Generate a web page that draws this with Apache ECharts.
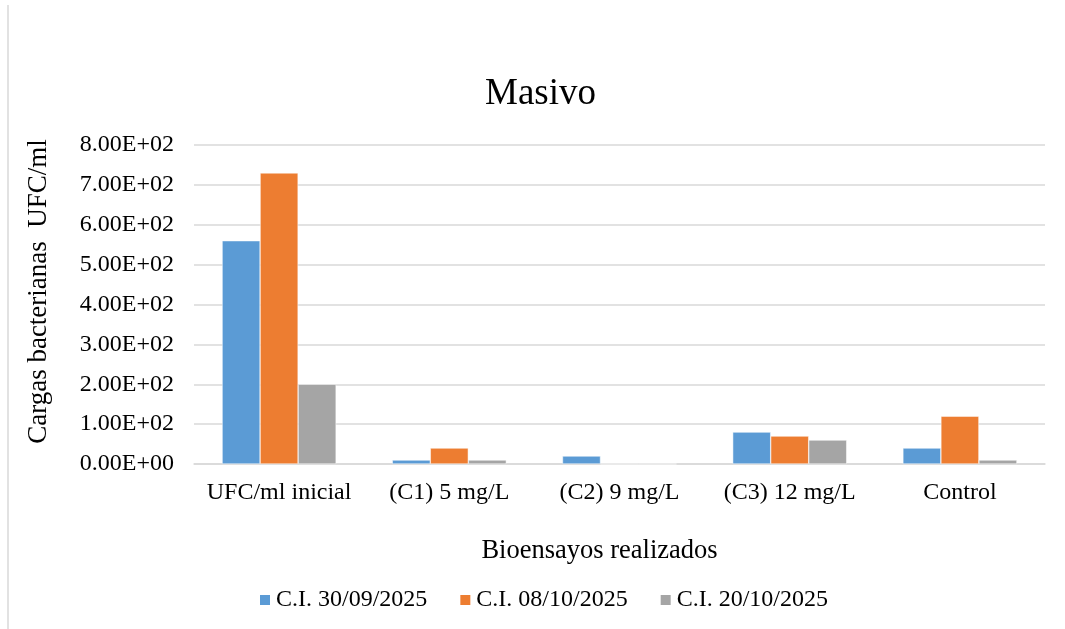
<!DOCTYPE html>
<html>
<head>
<meta charset="utf-8">
<script src="https://cdn.jsdelivr.net/npm/echarts@6/dist/echarts.min.js"></script>
<style>
  html, body { margin: 0; padding: 0; background: #fff; }
  #main { width: 1065px; height: 629px; }
</style>
</head>
<body>
<div id="main"></div>
<script>
const categories = ['UFC/ml inicial', '(C1) 5 mg/L', '(C2) 9 mg/L', '(C3) 12 mg/L', 'Control'];
const serieNames = ['C.I. 30/09/2025', 'C.I. 08/10/2025', 'C.I. 20/10/2025'];
const ci30_09 = [560, 10, 20, 80, 40];
const ci08_10 = [730, 40, 0, 70, 120];
const ci20_10 = [200, 10, 0, 60, 10];
const colors = ['#5B9BD5', '#ED7D31', '#A5A5A5'];

const FONT = '"Liberation Serif", "DejaVu Serif", serif';

// formato cientifico tipo Excel: 8.00E+02
function sci(v) {
    const parts = Number(v).toExponential(2).split('e');
    const exp = parseInt(parts[1], 10);
    const sign = exp < 0 ? '-' : '+';
    const e = String(Math.abs(exp)).padStart(2, '0');
    return parts[0] + 'E' + sign + e;
}

const chart = echarts.init(document.getElementById('main'));
chart.setOption({
    backgroundColor: '#fff',
    animation: false,
    title: {
        text: 'Masivo',
        left: 480,
        top: 71,
        textStyle: { fontFamily: FONT, fontSize: 37, fontWeight: 'normal', color: '#000' }
    },
    legend: {
        data: serieNames,
        left: 253,
        top: 583,
        icon: 'rect',
        itemWidth: 12,
        itemHeight: 12,
        itemGap: 31,
        textStyle: { fontFamily: FONT, fontSize: 24, color: '#000' }
    },
    grid: { left: 194, right: 20, top: 145, bottom: 165 },
    xAxis: {
        type: 'category',
        data: categories,
        name: 'Bioensayos realizados',
        nameLocation: 'middle',
        nameGap: 74,
        nameTextStyle: { fontFamily: FONT, fontSize: 26.5, color: '#000', padding: [0, 40, 0, 0] },
        axisLine: { lineStyle: { color: '#d9d9d9', width: 1.5 } },
        axisTick: { show: false },
        axisLabel: { fontFamily: FONT, fontSize: 24, color: '#000', margin: 17, interval: 0 }
    },
    yAxis: {
        type: 'value',
        min: 0,
        max: 800,
        interval: 100,
        name: 'Cargas bacterianas  UFC/ml',
        nameLocation: 'middle',
        nameGap: 142,
        nameTextStyle: { fontFamily: FONT, fontSize: 27, color: '#000', padding: [0, 0, 0, 26] },
        axisLine: { show: false },
        axisTick: { show: false },
        axisLabel: { fontFamily: FONT, fontSize: 24, color: '#000', margin: 20, formatter: sci },
        splitLine: { lineStyle: { color: '#d9d9d9', width: 1.5 } }
    },
    graphic: [{
        type: 'line',
        shape: { x1: 8, y1: 5, x2: 8, y2: 629 },
        style: { stroke: '#d9d9d9', lineWidth: 1.5 }
    }],
    series: [
        { name: serieNames[0], type: 'bar', data: ci30_09, barGap: '0%', barCategoryGap: '33%',
          itemStyle: { color: colors[0], borderColor: '#fff', borderWidth: 0.5 } },
        { name: serieNames[1], type: 'bar', data: ci08_10,
          itemStyle: { color: colors[1], borderColor: '#fff', borderWidth: 0.5 } },
        { name: serieNames[2], type: 'bar', data: ci20_10,
          itemStyle: { color: colors[2], borderColor: '#fff', borderWidth: 0.5 } }
    ]
});
</script>
</body>
</html>
